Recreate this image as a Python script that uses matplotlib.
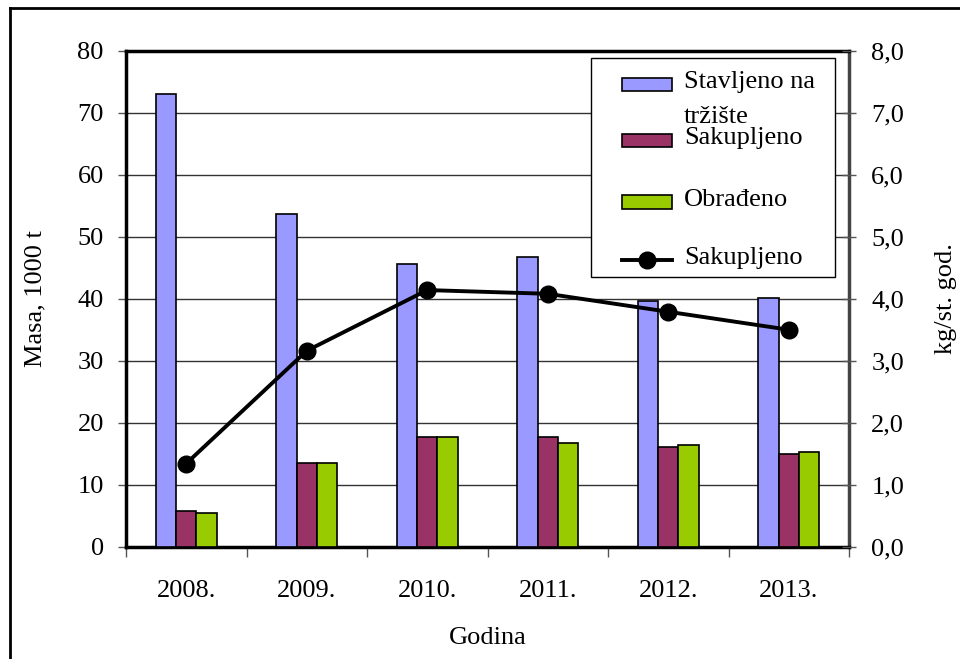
import matplotlib
matplotlib.use("Agg")
import matplotlib.pyplot as plt
from matplotlib.patches import Rectangle
from matplotlib.lines import Line2D
import numpy as np

plt.rcParams['font.family'] = ['Liberation Serif', 'DejaVu Serif']

years = ['2008.', '2009.', '2010.', '2011.', '2012.', '2013.']
stavljeno = [73.1, 53.7, 45.6, 46.7, 39.6, 40.1]
sakupljeno = [5.7, 13.5, 17.6, 17.6, 16.0, 15.0]
obradjeno = [5.4, 13.5, 17.6, 16.7, 16.4, 15.3]
sakupljeno_kg = [1.34, 3.16, 4.14, 4.08, 3.79, 3.50]

left_ticks = list(range(0, 81, 10))
right_ticks = [0, 1, 2, 3, 4, 5, 6, 7, 8]
right_labels = ['0,0', '1,0', '2,0', '3,0', '4,0', '5,0', '6,0', '7,0', '8,0']

c_blue = '#9999FF'
c_maroon = '#993366'
c_green = '#99CC00'

W, H = 960, 659
fig = plt.figure(figsize=(9.6, 6.59), dpi=100)
ax = fig.add_axes([126 / W, 1 - 546.5 / H, (849 - 126) / W, (546.5 - 51) / H])

x = np.arange(len(years))
bw = 0.168
ax.bar(x - bw, stavljeno, bw, color=c_blue, edgecolor='black', linewidth=1.2, zorder=3)
ax.bar(x, sakupljeno, bw, color=c_maroon, edgecolor='black', linewidth=1.2, zorder=3)
ax.bar(x + bw, obradjeno, bw, color=c_green, edgecolor='black', linewidth=1.2, zorder=3)

ax.set_xlim(-0.5, len(years) - 0.5)
ax.set_ylim(0, 80)
ax.set_yticks(left_ticks)
ax.set_yticklabels([str(v) for v in left_ticks], fontsize=19)
ax.yaxis.grid(True, color='#333333', linewidth=1.0, zorder=0)
ax.set_axisbelow(True)

ax.set_xticks(np.arange(-0.5, len(years), 1.0))
ax.set_xticklabels([''] * (len(years) + 1))
ax.set_xticks(x, minor=True)
ax.set_xticklabels(years, minor=True, fontsize=19)
ax.tick_params(axis='x', which='major', direction='out', length=7, width=1, color='#555555')
ax.tick_params(axis='x', which='minor', length=0, pad=24)
ax.tick_params(axis='y', direction='out', length=6, width=1, color='#555555', pad=10)

for s in ['left', 'bottom', 'top']:
    ax.spines[s].set_linewidth(2.5)
    ax.spines[s].set_color('black')
ax.spines['right'].set_linewidth(2.5)
ax.spines['right'].set_color('#444444')

ax.set_ylabel('Masa, 1000 t', fontsize=19, labelpad=22)
ax.set_xlabel('Godina', fontsize=19, labelpad=18)

ax2 = ax.twinx()
ax2.set_ylim(0, 8)
ax2.set_yticks(right_ticks)
ax2.set_yticklabels(right_labels, fontsize=19)
ax2.tick_params(axis='y', direction='inout', length=10, width=1, color='#555555', pad=11)
ax2.plot(x, sakupljeno_kg, color='black', linewidth=2.8, marker='o', markersize=12, zorder=5)
ax2.set_ylabel('kg/st. god.', fontsize=19, labelpad=22)
for s in ax2.spines.values():
    s.set_visible(False)

# Legend (manual, axes fraction coordinates of primary axes)
def px_x(px):
    return (px - 126) / (849 - 126)

def px_y(py):
    return (546.5 - py) / (546.5 - 51)

lax = ax2
lax.add_patch(Rectangle((px_x(591), px_y(277)), px_x(835) - px_x(591), px_y(58) - px_y(277),
                        transform=ax.transAxes, facecolor='white', edgecolor='black',
                        linewidth=1.0, zorder=10, clip_on=False))
entries = [(c_blue, 84, ['Stavljeno na', 'tržište']),
           (c_maroon, 140, ['Sakupljeno']),
           (c_green, 202, ['Obrađeno'])]
for col, yc, lines in entries:
    lax.add_patch(Rectangle((px_x(622), px_y(yc + 6.5)), px_x(672) - px_x(622), px_y(yc - 6.5) - px_y(yc + 6.5),
                            transform=ax.transAxes, facecolor=col, edgecolor='black', linewidth=1.2,
                            zorder=11, clip_on=False))
    for i, t in enumerate(lines):
        lax.text(px_x(684), px_y(yc - 2 + i * 35), t, transform=ax.transAxes, fontsize=19,
                 va='center', ha='left', zorder=12)
lax.add_line(Line2D([px_x(622), px_x(672)], [px_y(260), px_y(260)], transform=ax.transAxes,
                    color='black', linewidth=2.8, zorder=11))
lax.add_line(Line2D([px_x(647)], [px_y(260)], transform=ax.transAxes, marker='o', markersize=12,
                    color='black', zorder=12))
lax.text(px_x(684), px_y(258), 'Sakupljeno', transform=ax.transAxes, fontsize=19,
         va='center', ha='left', zorder=12)

# outer frame
fig.add_artist(Line2D([9.5 / W, 1.0], [1 - 7.5 / H, 1 - 7.5 / H], color='black', linewidth=2, transform=fig.transFigure))
fig.add_artist(Line2D([9.5 / W, 9.5 / W], [0, 1 - 7.5 / H], color='black', linewidth=2, transform=fig.transFigure))

fig.savefig('out.png', dpi=100)
